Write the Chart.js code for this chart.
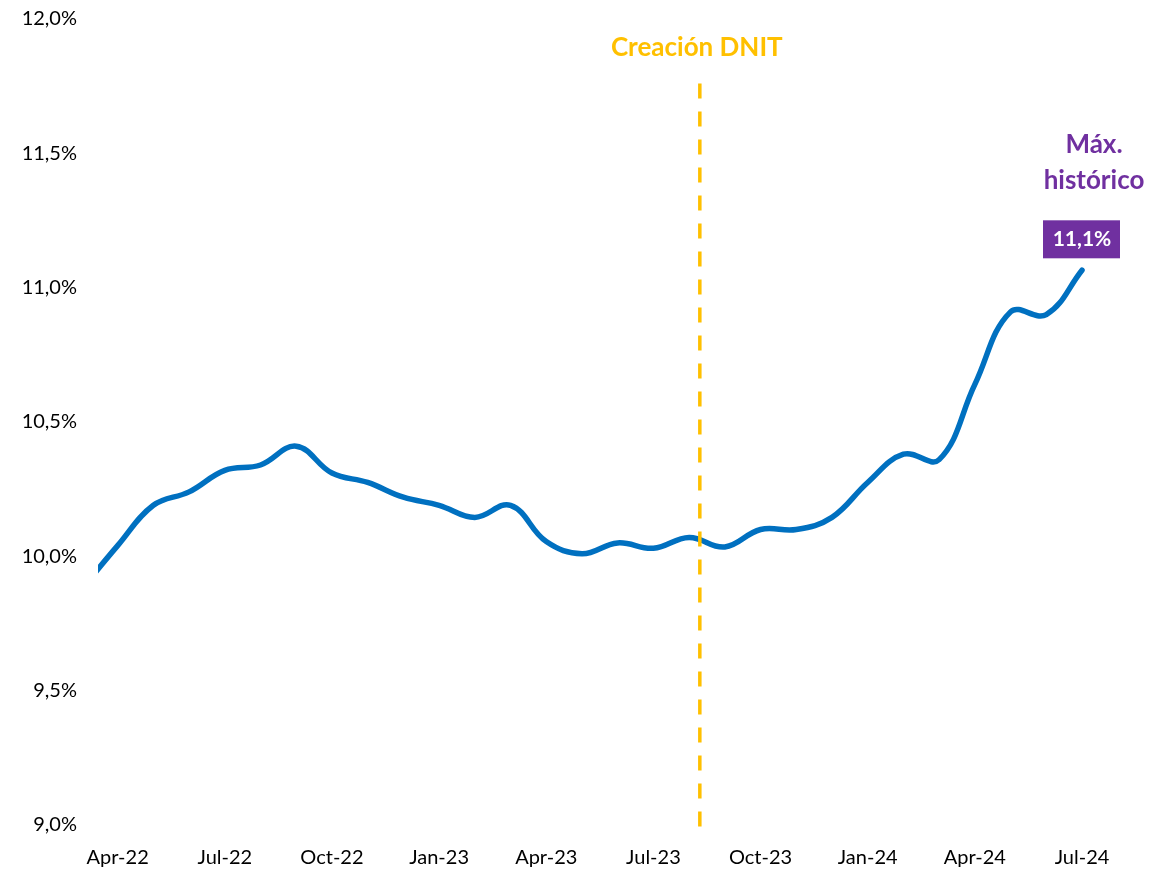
<!DOCTYPE html>
<html>
<head>
<meta charset="utf-8">
<script src="https://cdn.jsdelivr.net/npm/chart.js@4.4.1/dist/chart.umd.min.js"></script>
<style>
html,body{margin:0;padding:0;background:#fff;}
#wrap{width:1153px;height:872px;position:relative;}
</style>
</head>
<body>
<div id="wrap"><canvas id="c" width="1153" height="872"></canvas></div>
<script>
// Monthly index: 0 = Apr-22 ... 27 = Jul-24 (index -1 = Mar-22, partly outside the plot)
const months = ['Mar-22','Apr-22','May-22','Jun-22','Jul-22','Aug-22','Sep-22','Oct-22','Nov-22','Dec-22',
  'Jan-23','Feb-23','Mar-23','Apr-23','May-23','Jun-23','Jul-23','Aug-23','Sep-23','Oct-23','Nov-23','Dec-23',
  'Jan-24','Feb-24','Mar-24','Apr-24','May-24','Jun-24','Jul-24'];
const monthIndex = [-1,0,1,2,3,4,5,6,7,8,9,10,11,12,13,14,15,16,17,18,19,20,21,22,23,24,25,26,27];
const values = [9.88,10.04,10.19,10.24,10.32,10.34,10.41,10.31,10.275,10.22,
  10.19,10.145,10.19,10.055,10.01,10.05,10.03,10.07,10.035,10.10,10.10,10.145,
  10.275,10.38,10.36,10.64,10.91,10.90,11.065];
const tickIndex = [0,3,6,9,12,15,18,21,24,27];
const tickLabels = ['Apr-22','Jul-22','Oct-22','Jan-23','Apr-23','Jul-23','Oct-23','Jan-24','Apr-24','Jul-24'];
const yTicks = [9.0,9.5,10.0,10.5,11.0,11.5,12.0];
const dnitIndex = 16.3;
const dnitRange = [8.99, 11.76];
const dnitText = 'Creación DNIT';
const maxLabel = '11,1%';
const maxText = ['Máx.', 'histórico'];

const FONT = 'Lato, "Open Sans", sans-serif';
const fmt = v => v.toFixed(1).replace('.', ',') + '%';

const annot = {
  id: 'annot',
  afterDatasetsDraw(chart) {
    const {ctx, scales:{x, y}} = chart;
    ctx.save();
    // dashed DNIT line
    const dx = x.getPixelForValue(dnitIndex);
    ctx.strokeStyle = '#FFC000';
    ctx.lineWidth = 3.5;
    ctx.setLineDash([15, 13]);
    ctx.beginPath();
    ctx.moveTo(dx, y.getPixelForValue(dnitRange[1]));
    ctx.lineTo(dx, y.getPixelForValue(dnitRange[0]));
    ctx.stroke();
    ctx.setLineDash([]);
    ctx.fillStyle = '#FFC000';
    ctx.font = 'bold 26px ' + FONT;
    ctx.textAlign = 'center';
    ctx.textBaseline = 'middle';
    ctx.fillText(dnitText, dx - 3, y.getPixelForValue(11.894));

    // max label
    const lastI = values.length - 1;
    const lx = x.getPixelForValue(monthIndex[lastI]);
    const by = y.getPixelForValue(11.18);
    ctx.fillStyle = '#7030A0';
    ctx.fillRect(lx - 39, by - 19, 77, 38);
    ctx.fillStyle = '#FFFFFF';
    ctx.font = 'bold 21px ' + FONT;
    ctx.fillText(maxLabel, lx, by);
    ctx.fillStyle = '#7030A0';
    ctx.font = 'bold 26px ' + FONT;
    ctx.fillText(maxText[0], lx + 12, y.getPixelForValue(11.533));
    ctx.fillText(maxText[1], lx + 12, y.getPixelForValue(11.40));
    ctx.restore();
  }
};

new Chart(document.getElementById('c'), {
  type: 'line',
  data: {
    datasets: [{
      data: monthIndex.map((m, i) => ({x: m, y: values[i]})),
      borderColor: '#0070C0',
      borderWidth: 5.5,
      pointRadius: 0,
      tension: 0.4,
      borderCapStyle: 'round',
      clip: {left: 0, top: false, right: false, bottom: false}
    }]
  },
  options: {
    responsive: false,
    animation: false,
    events: [],
    layout: {padding: {left: 0, right: 71, top: 19, bottom: 0}},
    plugins: {legend: {display: false}, tooltip: {enabled: false}},
    scales: {
      x: {
        type: 'linear',
        min: -0.55,
        max: 27,
        grid: {display: false, drawTicks: true, tickLength: 21},
        border: {display: false},
        afterBuildTicks: s => { s.ticks = tickIndex.map(v => ({value: v})); },
        afterFit: s => { s.height = 47; },
        ticks: {
          autoSkip: false,
          maxRotation: 0,
          padding: 0,
          color: '#000',
          font: {family: FONT, size: 20},
          callback: v => tickLabels[tickIndex.indexOf(v)]
        }
      },
      y: {
        min: 9,
        max: 12,
        grid: {display: false, drawTicks: true, tickLength: 21},
        border: {display: false},
        afterBuildTicks: s => { s.ticks = yTicks.map(v => ({value: v})); },
        afterFit: s => { s.width = 98; },
        ticks: {
          padding: 0,
          color: '#000',
          font: {family: FONT, size: 20},
          callback: v => fmt(v)
        }
      }
    }
  },
  plugins: [annot]
});
</script>
</body>
</html>
